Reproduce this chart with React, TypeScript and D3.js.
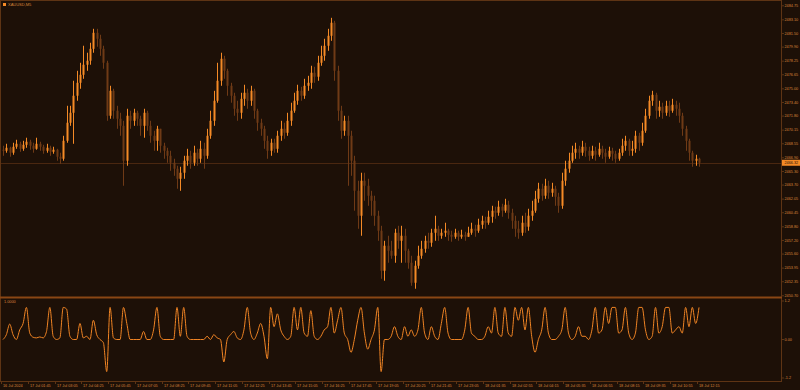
import React from 'react';
import * as d3 from 'd3';

const symbolLabel = 'XAUUSD,M5';
const indicatorLabel = '1.0000';

const firstOpen = 2467.85;

const closes = [
  2467.73, 2468.08, 2467.50, 2468.20, 2468.55, 2467.96, 2468.43, 2468.79, 2468.32, 2467.96,
  2468.55, 2468.20, 2467.73, 2468.08, 2467.61, 2467.85, 2467.03, 2466.79, 2468.90, 2471.02,
  2472.19, 2474.19, 2475.71, 2476.65, 2477.83, 2478.30, 2479.70, 2481.58, 2480.88, 2479.70,
  2478.06, 2471.84, 2474.77, 2472.43, 2471.49, 2470.66, 2466.56, 2471.84, 2471.25, 2472.19,
  2471.49, 2470.66, 2472.19, 2470.66, 2469.49, 2468.90, 2470.31, 2468.32, 2467.73, 2467.14,
  2466.32, 2465.62, 2464.44, 2465.15, 2466.56, 2467.14, 2466.32, 2467.50, 2466.79, 2467.96,
  2467.14, 2469.49, 2471.25, 2473.60, 2475.95, 2478.53, 2477.12, 2475.36, 2474.19, 2472.66,
  2472.19, 2473.83, 2474.54, 2473.60, 2474.77, 2472.43, 2471.02, 2470.31, 2468.90, 2467.73,
  2468.67, 2467.96, 2469.49, 2470.31, 2469.84, 2471.25, 2472.43, 2473.60, 2474.77, 2474.19,
  2475.36, 2475.71, 2476.89, 2476.42, 2478.06, 2478.88, 2480.06, 2481.23, 2482.76, 2477.12,
  2472.43, 2470.08, 2471.25, 2469.49, 2466.56, 2463.03, 2460.10, 2464.21, 2463.62, 2462.45,
  2461.86, 2460.10, 2458.34, 2453.64, 2456.58, 2455.99, 2455.40, 2458.10, 2457.16, 2457.75,
  2455.99, 2454.58, 2452.23, 2454.23, 2455.40, 2456.22, 2457.16, 2456.93, 2458.10, 2458.57,
  2457.75, 2458.10, 2458.34, 2457.87, 2457.63, 2458.10, 2457.63, 2457.87, 2457.63, 2458.10,
  2458.57, 2458.34, 2459.04, 2459.51, 2459.28, 2459.98, 2460.69, 2460.45, 2461.16, 2460.69,
  2461.39, 2460.45, 2459.51, 2458.57, 2458.10, 2459.28, 2458.81, 2460.10, 2460.69, 2462.09,
  2463.27, 2462.45, 2463.62, 2462.80, 2463.27, 2462.33, 2461.27, 2464.21, 2465.62, 2466.56,
  2467.50, 2467.96, 2467.50, 2468.20, 2467.73, 2467.14, 2467.73, 2467.26, 2467.96, 2467.50,
  2467.03, 2467.73, 2467.38, 2466.79, 2467.50, 2468.32, 2468.90, 2467.73, 2467.96, 2469.49,
  2468.67, 2470.08, 2471.84, 2473.60, 2474.30, 2472.43, 2472.90, 2472.19, 2473.01, 2472.43,
  2473.13, 2472.66, 2471.84, 2470.31, 2468.90, 2467.50, 2466.56, 2466.79, 2466.32,
];

const highs = [
  2468.32, 2468.55, 2468.20, 2468.67, 2469.02, 2468.79, 2468.90, 2469.26, 2469.02, 2468.67,
  2469.26, 2468.79, 2468.43, 2468.55, 2468.32, 2468.20, 2467.96, 2467.50, 2469.49, 2473.01,
  2473.01, 2475.95, 2477.12, 2478.06, 2480.06, 2479.24, 2480.41, 2482.05, 2482.05, 2481.35,
  2480.06, 2478.30, 2475.36, 2475.01, 2473.01, 2472.19, 2471.25, 2472.66, 2472.43, 2472.66,
  2472.43, 2471.84, 2472.66, 2472.43, 2471.25, 2470.08, 2470.66, 2470.31, 2468.67, 2468.08,
  2467.73, 2466.79, 2465.97, 2465.85, 2467.14, 2467.96, 2467.73, 2468.32, 2467.96, 2468.90,
  2468.67, 2470.31, 2472.43, 2474.77, 2478.06, 2479.24, 2478.88, 2477.36, 2475.71, 2474.54,
  2473.60, 2474.54, 2475.48, 2475.01, 2475.36, 2475.01, 2472.66, 2471.49, 2470.66, 2469.49,
  2469.14, 2469.14, 2470.08, 2471.25, 2471.02, 2472.19, 2473.37, 2474.54, 2475.48, 2475.24,
  2476.18, 2476.53, 2477.71, 2477.59, 2478.88, 2480.06, 2480.88, 2482.05, 2483.34, 2482.99,
  2477.71, 2473.01, 2471.84, 2471.84, 2470.08, 2467.14, 2464.21, 2465.15, 2465.15, 2464.44,
  2463.03, 2462.45, 2460.69, 2458.92, 2457.16, 2457.75, 2457.16, 2458.57, 2458.92, 2458.92,
  2458.57, 2456.22, 2455.40, 2454.82, 2456.58, 2457.16, 2457.75, 2458.10, 2458.57, 2460.10,
  2458.92, 2458.57, 2459.28, 2458.57, 2458.34, 2458.57, 2458.34, 2458.46, 2458.22, 2458.81,
  2459.28, 2459.04, 2459.75, 2460.10, 2459.98, 2460.69, 2461.27, 2461.16, 2461.86, 2461.51,
  2462.09, 2461.86, 2460.92, 2460.10, 2459.51, 2460.10, 2460.45, 2460.92, 2461.86, 2463.03,
  2463.97, 2463.86, 2464.44, 2464.21, 2463.97, 2463.62, 2462.80, 2465.15, 2466.56, 2467.50,
  2468.32, 2468.67, 2468.32, 2468.90, 2468.67, 2468.20, 2468.32, 2468.20, 2468.67, 2468.32,
  2467.96, 2468.20, 2468.08, 2467.73, 2467.96, 2469.14, 2469.49, 2469.14, 2468.90, 2470.08,
  2469.84, 2471.02, 2472.66, 2474.19, 2474.77, 2474.54, 2473.60, 2473.37, 2473.60, 2473.60,
  2473.83, 2473.60, 2473.37, 2472.19, 2470.66, 2469.14, 2467.73, 2467.26, 2466.91,
];

const lows = [
  2467.14, 2467.50, 2467.03, 2467.26, 2467.96, 2467.61, 2467.73, 2468.08, 2467.85, 2467.50,
  2467.85, 2467.73, 2467.38, 2467.50, 2467.14, 2467.38, 2466.56, 2466.20, 2466.56, 2468.67,
  2470.66, 2468.55, 2473.60, 2475.01, 2476.18, 2477.12, 2477.83, 2479.24, 2479.94, 2478.88,
  2477.36, 2471.25, 2471.49, 2471.49, 2470.31, 2469.49, 2463.62, 2465.97, 2470.31, 2470.66,
  2470.66, 2469.49, 2469.26, 2470.08, 2468.67, 2467.73, 2467.73, 2467.50, 2466.79, 2466.32,
  2465.38, 2464.79, 2463.27, 2463.03, 2464.44, 2465.97, 2465.62, 2465.97, 2465.97, 2466.32,
  2465.62, 2466.79, 2469.14, 2470.66, 2473.37, 2475.36, 2476.18, 2474.19, 2473.37, 2471.84,
  2471.25, 2471.49, 2473.01, 2472.66, 2473.01, 2471.49, 2470.08, 2469.49, 2467.96, 2466.79,
  2467.14, 2467.50, 2467.50, 2468.90, 2469.14, 2469.49, 2470.66, 2472.19, 2473.13, 2473.60,
  2473.83, 2474.77, 2475.01, 2475.71, 2475.95, 2477.71, 2478.30, 2479.47, 2480.64, 2475.95,
  2471.25, 2469.14, 2469.49, 2463.62, 2464.79, 2460.69, 2458.57, 2457.75, 2461.86, 2461.27,
  2460.10, 2458.92, 2457.16, 2452.70, 2452.47, 2454.58, 2455.05, 2454.58, 2456.22, 2454.58,
  2454.58, 2453.88, 2451.88, 2451.53, 2453.88, 2455.05, 2455.76, 2456.22, 2456.46, 2457.16,
  2457.16, 2457.40, 2457.63, 2457.16, 2457.05, 2457.40, 2457.16, 2457.40, 2457.16, 2457.63,
  2457.87, 2457.63, 2458.10, 2458.57, 2458.57, 2459.04, 2459.28, 2459.75, 2460.10, 2459.98,
  2460.45, 2459.75, 2458.57, 2457.63, 2457.40, 2457.75, 2458.10, 2458.34, 2459.51, 2460.45,
  2461.63, 2461.86, 2462.09, 2462.09, 2462.33, 2461.27, 2460.45, 2460.92, 2463.62, 2465.15,
  2466.32, 2466.79, 2466.79, 2467.14, 2467.03, 2466.56, 2466.79, 2466.56, 2467.03, 2466.79,
  2466.32, 2466.79, 2466.56, 2466.32, 2466.56, 2467.14, 2467.73, 2467.14, 2467.14, 2467.50,
  2467.73, 2468.32, 2469.84, 2471.49, 2473.01, 2471.49, 2471.72, 2471.49, 2471.84, 2471.72,
  2472.19, 2471.84, 2471.02, 2469.49, 2467.73, 2466.56, 2465.85, 2465.97, 2465.85,
];

const indicator = [
  0, 0.15, 0.48, 0.15, 0, 0.3, 0.5, 1.0, 0.2, 0.07,
  0.05, 0.08, 0.05, 0.25, 1.0, 0.1, 0, 0.05, 1.0, 0.95,
  0.1, 0, 0, 0.5, 0.05, 0.1, 0, 0.6, 0.15, 0,
  -0.1, -1.0, 1.0, 0.05, 0, 0, 1.0, 0.5, 0, 0,
  0, 0, 0.25, 0, 0, 0.3, 1.0, 0.1, 0, 0,
  0, 0, 1.0, 0.1, 1.0, 0.1, 0, 0, 0, 0,
  0, 0.1, 0, 0.15, 0.05, 0, -0.7, 0, 0.15, 0.25,
  0.05, 0, 0.3, 1.0, 0.2, 0, 0.2, 0.5, 0.1, -0.6,
  1.0, 0.4, 0.8, 0.3, 0.1, 0, 0.1, 1.0, 0.3, 1.0,
  0.2, 0.1, 0.9, 0.1, 0, 0.1, 0.3, 0.4, 1.0, 0.2,
  0.6, 1.0, 0.2, 0, -0.4, 0, 0.6, 1.0, 0.2, -0.3,
  0, 0.3, 1.0, -1.0, 0, 0, 0.1, 0.4, 0.1, 0,
  0.4, 0.1, 0.3, 0.1, 0.3, 1.0, 0.2, 0, 0.4, 0.1,
  0, 0.5, 1.0, 0.2, 0, 0, 0, 0, 0.3, 1.0,
  0.2, 0.1, 0, 0, 0.1, 0.4, 0.2, 1.0, 0.2, 0.1,
  1.0, 0.2, 0.1, 1.0, 0.6, 1.0, 0.3, 1.0, 0.1, -0.4,
  0, 0.3, 1.0, 0.2, 0, 0, 0.1, 0.3, 1.0, 0.2,
  0, 0.1, 0.4, 0.1, 0.1, 0, 0.3, 1.0, 0.2, 0.3,
  1.0, 0.5, 1.0, 1.0, 0.2, 0.3, 1.0, 0.2, 0, 0.2,
  1.0, 1.0, 0.3, 0, 0.1, 1.0, 0.2, 0.4, 1.0, 1.0,
  0.2, 0.3, 0.4, 0.2, 1.0, 0.4, 1.0, 0.5, 1.0,
];

const timeLabels = [
  '16 Jul 2024', '17 Jul 01:45', '17 Jul 03:05', '17 Jul 04:25', '17 Jul 05:45',
  '17 Jul 07:05', '17 Jul 08:25', '17 Jul 09:45', '17 Jul 11:05', '17 Jul 12:25',
  '17 Jul 13:45', '17 Jul 15:05', '17 Jul 16:25', '17 Jul 17:45', '17 Jul 19:05',
  '17 Jul 20:25', '17 Jul 21:45', '17 Jul 23:05', '18 Jul 01:35', '18 Jul 02:55',
  '18 Jul 04:15', '18 Jul 05:35', '18 Jul 06:55', '18 Jul 08:15', '18 Jul 09:35',
  '18 Jul 10:55', '18 Jul 12:15',
];
const barsPerLabel = 8;

const priceTicks = [
  2484.75, 2483.10, 2481.50, 2479.90, 2478.25, 2476.65, 2475.00, 2473.40, 2471.80, 2470.15,
  2468.55, 2466.90, 2465.30, 2463.70, 2462.05, 2460.45, 2458.80, 2457.20, 2455.60, 2453.95,
  2452.35, 2450.70,
];
const indicatorTicks = [1.2, 0, -1.2];
const indicatorTickLabels = ['1.2', '0.00', '-1.2'];

const BG = '#1d1007';
const FRAME = '#5e3414';
const SEP = '#8a4614';
const TEXT = '#d9843a';
const BULL = '#f58a26';
const BEAR = '#6f3a16';
const IND = '#f08424';
const FONT = 'Liberation Sans, Arial, sans-serif';

export default function App() {
  const W = 800;
  const H = 390;
  const plotRight = 781;
  const mainTop = 1;
  const sepY = 297.5;
  const indBottom = 381;

  const n = closes.length;
  const x = d3.scaleLinear().domain([0, n - 1]).range([3, 699]);
  const y = d3.scaleLinear().domain([2450.7, 2484.75]).range([295.8, 5.8]);
  const yi = d3.scaleLinear().domain([-1.2, 1.2]).range([378, 301]);

  const candles = closes.map((c, i) => {
    const o = i === 0 ? firstOpen : closes[i - 1];
    const h = Math.max(highs[i], o, c);
    const l = Math.min(lows[i], o, c);
    return { i, o, c, h, l };
  });

  const line = d3
    .line<number>()
    .x((_, i) => x(i))
    .y((v) => yi(v))
    .curve(d3.curveMonotoneX);

  const last = closes[n - 1];
  const lastY = Math.round(y(last)) + 0.5;

  return (
    <div style={{ width: W, height: H, overflow: 'hidden' }}>
      <style>{`html,body{margin:0;padding:0;background:${BG};overflow:hidden}`}</style>
      <svg width={W} height={H} style={{ display: 'block', background: BG }}>
        <rect x={0} y={0} width={W} height={H} fill={BG} />
        {/* frame */}
        <line x1={0} x2={plotRight} y1={0.5} y2={0.5} stroke={FRAME} />
        <line x1={0.5} x2={0.5} y1={0} y2={indBottom} stroke={FRAME} />
        <line x1={plotRight + 0.5} x2={plotRight + 0.5} y1={0} y2={indBottom + 1} stroke={FRAME} />
        <line x1={0} x2={plotRight} y1={indBottom + 0.5} y2={indBottom + 0.5} stroke={FRAME} />
        <rect x={0} y={sepY - 1} width={plotRight + 1} height={2} fill={SEP} />

        {/* price line */}
        <line x1={1} x2={plotRight} y1={lastY} y2={lastY} stroke="#4a2710" />

        {/* title */}
        <rect x={3} y={3} width={3} height={3} fill={BULL} />
        <text x={8} y={6.3} fontSize={4} fill={TEXT} fontFamily={FONT}>
          {symbolLabel}
        </text>

        {/* candles */}
        {candles.map((d) => {
          const cx = Math.round(x(d.i));
          const bull = d.c >= d.o;
          const col = bull ? BULL : BEAR;
          const top = y(Math.max(d.o, d.c));
          const bot = y(Math.min(d.o, d.c));
          return (
            <g key={d.i}>
              <rect x={cx} y={y(d.h)} width={1} height={Math.max(1, y(d.l) - y(d.h))} fill={col} />
              <rect x={cx - 0.5} y={top} width={2} height={Math.max(1, bot - top)} fill={col} />
            </g>
          );
        })}

        {/* indicator */}
        <text x={4} y={303} fontSize={3.8} fill={TEXT} fontFamily={FONT}>
          {indicatorLabel}
        </text>
        <path d={line(indicator) || ''} fill="none" stroke={IND} strokeWidth={1} />

        {/* price axis */}
        {priceTicks.map((v) => (
          <g key={v}>
            <line x1={plotRight} x2={plotRight + 3} y1={y(v)} y2={y(v)} stroke={FRAME} />
            <text
              x={plotRight + 3.5}
              y={y(v)}
              dy="0.35em"
              fontSize={3.8}
              fill={TEXT}
              fontFamily={FONT}
            >
              {v.toFixed(2)}
            </text>
          </g>
        ))}
        {indicatorTicks.map((v, k) => (
          <g key={'i' + k}>
            <line x1={plotRight} x2={plotRight + 3} y1={yi(v)} y2={yi(v)} stroke={FRAME} />
            <text
              x={plotRight + 3.5}
              y={yi(v)}
              dy="0.35em"
              fontSize={3.8}
              fill={TEXT}
              fontFamily={FONT}
            >
              {indicatorTickLabels[k]}
            </text>
          </g>
        ))}

        {/* current price box */}
        <rect x={plotRight + 1} y={y(last) - 3} width={W - plotRight - 1} height={6} fill={BULL} />
        <text
          x={plotRight + 3.5}
          y={y(last)}
          dy="0.35em"
          fontSize={3.8}
          fill={BG}
          fontFamily={FONT}
        >
          {last.toFixed(2)}
        </text>

        {/* time axis */}
        {timeLabels.map((t, k) => {
          const tx = Math.round(x(k * barsPerLabel)) - 1.5;
          return (
            <g key={t}>
              <line x1={tx} x2={tx} y1={indBottom} y2={indBottom + 3} stroke={FRAME} />
              <text x={tx + 1.5} y={387} fontSize={3.8} fill={TEXT} fontFamily={FONT}>
                {t}
              </text>
            </g>
          );
        })}
      </svg>
    </div>
  );
}
